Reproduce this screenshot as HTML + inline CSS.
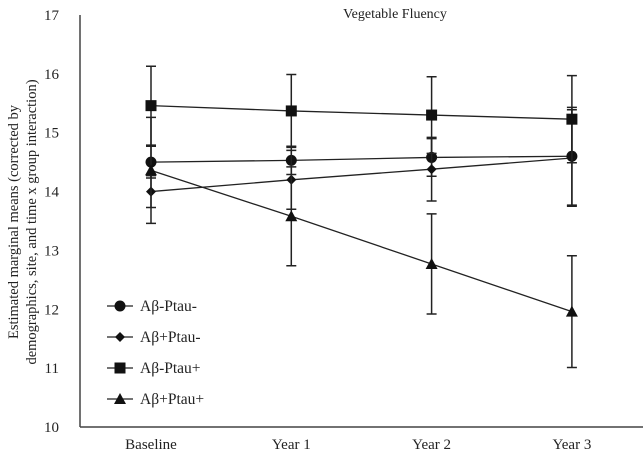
<!DOCTYPE html>
<html><head><meta charset="utf-8"><style>
body{margin:0;background:#fff}
svg{display:block;font-family:"Liberation Serif",serif;fill:#222}
</style></head><body>
<svg width="643" height="452" viewBox="0 0 643 452">
<text x="395" y="18" text-anchor="middle" font-size="14">Vegetable Fluency</text>
<g transform="translate(18,222) rotate(-90)">
<text x="0" y="0" text-anchor="middle" font-size="14.5">Estimated marginal means (corrected by</text>
<text x="0" y="18" text-anchor="middle" font-size="14.5">demographics, site, and time x group interaction)</text>
</g>
<g id="axes"></g>
<g id="plot"></g>
<g id="legend"></g>
</svg>
<script>
const categories=["Baseline","Year 1","Year 2","Year 3"];
const yTicks=[10,11,12,13,14,15,16,17];
const seriesNames=["Aβ-Ptau-","Aβ+Ptau-","Aβ-Ptau+","Aβ+Ptau+"];
const seriesMarkers=["circle","diamond","square","triangle"];
const circleVals=[14.5,14.53,14.58,14.6];
const circleErr=[0.27,0.24,0.32,0.83];
const diamondVals=[14.0,14.2,14.38,14.57];
const diamondErr=[0.27,0.5,0.54,0.82];
const squareVals=[15.46,15.37,15.3,15.23];
const squareErr=[0.67,0.62,0.65,0.74];
const triangleVals=[14.36,13.58,12.77,11.96];
const triangleErr=[0.9,0.84,0.85,0.95];
const allVals=[circleVals,diamondVals,squareVals,triangleVals];
const allErr=[circleErr,diamondErr,squareErr,triangleErr];
const NS="http://www.w3.org/2000/svg";
const X0=80,X1=643,Y0=427,Y1=15;
const x=i=>151+i*140.3;
const y=v=>Y0-(v-10)*(Y0-Y1)/7;
function mk(tag,at,parent){const e=document.createElementNS(NS,tag);for(const k in at)e.setAttribute(k,at[k]);parent.appendChild(e);return e;}
const axes=document.getElementById('axes');
let ya=mk('line',{x1:X0,y1:Y1,x2:X0,y2:Y0,stroke:'#444','stroke-width':1.5},axes);


let xa=mk('line',{x1:X0,y1:Y0,x2:X1,y2:Y0,stroke:'#444','stroke-width':1.5},axes);


yTicks.forEach(t=>{let e=mk('text',{x:59,y:y(t)+5,'text-anchor':'end','font-size':15},axes);e.textContent=t;

});
categories.forEach((c,i)=>{let e=mk('text',{x:x(i),y:449,'text-anchor':'middle','font-size':15},axes);e.textContent=c;

});
function marker(type,cx,cy,parent){
let e;
if(type==='circle')e=mk('circle',{cx:cx,cy:cy,r:5.5,fill:'#111'},parent);
else if(type==='diamond')e=mk('polygon',{points:`${cx},${cy-5} ${cx+5},${cy} ${cx},${cy+5} ${cx-5},${cy}`,fill:'#111'},parent);
else if(type==='square')e=mk('rect',{x:cx-5.5,y:cy-5.5,width:11,height:11,fill:'#111'},parent);
else e=mk('polygon',{points:`${cx},${cy-6} ${cx+6},${cy+5} ${cx-6},${cy+5}`,fill:'#111'},parent);
return e;}
const plot=document.getElementById('plot');
allVals.forEach((vals,s)=>{
const g=mk('g',{},plot);


vals.forEach((v,i)=>{const er=allErr[s][i];
const eb=mk('path',{d:`M${x(i)},${y(v+er)}V${y(v-er)}M${x(i)-5},${y(v+er)}H${x(i)+5}M${x(i)-5},${y(v-er)}H${x(i)+5}`,stroke:'#222','stroke-width':1.5,fill:'none'},g);

});
const ln=mk('polyline',{points:vals.map((v,i)=>x(i)+','+y(v)).join(' '),stroke:'#222','stroke-width':1.3,fill:'none'},g);


vals.forEach((v,i)=>{const m=marker(seriesMarkers[s],x(i),y(v),g);

});
});
const leg=document.getElementById('legend');
seriesNames.forEach((n,s)=>{const yy=306+s*31;
const g=mk('g',{},leg);


mk('line',{x1:107,y1:yy,x2:133,y2:yy,stroke:'#222','stroke-width':1.3},g);
marker(seriesMarkers[s],120,yy,g);
const t=mk('text',{x:140,y:yy+5,'font-size':15.5},g);t.textContent=n;});
</script>
</body></html>
